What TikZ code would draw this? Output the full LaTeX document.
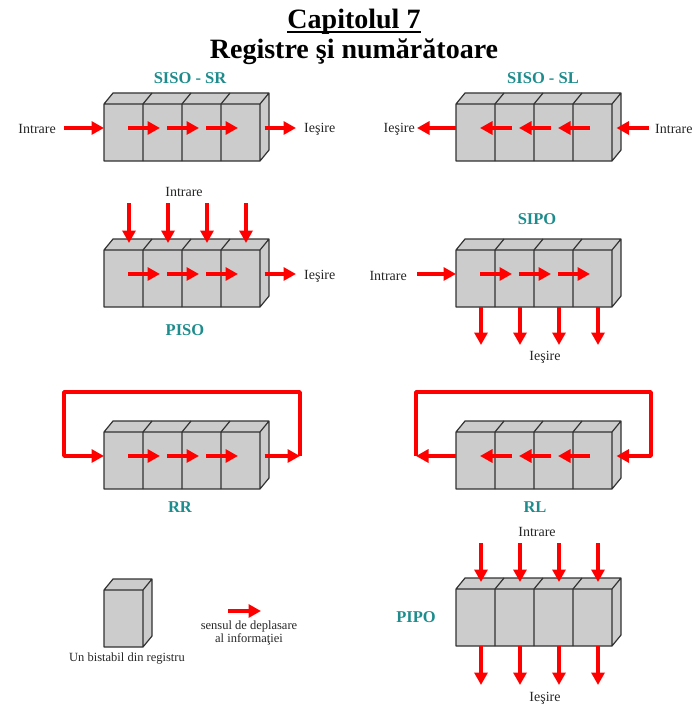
\documentclass[tikz,border=0pt]{standalone}
\usepackage{fontspec}
\setmainfont{Liberation Serif}
\usetikzlibrary{arrows.meta,calc}
\definecolor{tealtxt}{RGB}{30,140,140}
\definecolor{cellgrey}{RGB}{204,204,204}
\definecolor{edgegrey}{RGB}{50,50,50}
\begin{document}
\begin{tikzpicture}[x=1pt,y=-1pt,
  redarrow/.style={draw=red, line width=3.4pt, -{Triangle[length=12.5pt,width=13pt]}},
  lbl/.style={font=\fontsize{14}{16}\selectfont, text=black!85, inner sep=0pt, anchor=mid},
  ttl/.style={font=\fontsize{16.5}{18}\selectfont\bfseries, text=tealtxt, inner sep=0pt},
  leg/.style={font=\fontsize{12.5}{13}\selectfont, text=black!85, inner sep=0pt, align=center},
  bigttl/.style={font=\fontsize{28}{30}\selectfont\bfseries, inner sep=0pt, anchor=base},
  pics/reg/.style={code={
    \pgfmathsetmacro\W{39*#1}
    \fill[cellgrey] (0,0) -- (9,-11) -- (\W+9,-11) -- (\W+9,46) -- (\W,57) -- (0,57) -- cycle;
    \draw[edgegrey,line width=1.2pt,line join=round]
      (0,0) rectangle (\W,57)
      (0,0) -- (9,-11) -- (\W+9,-11) -- (\W+9,46) -- (\W,57)
      (\W,0) -- (\W+9,-11);
    \ifnum#1>1
      \pgfmathtruncatemacro\nm{#1-1}
      \foreach \i in {1,...,\nm}{
        \draw[edgegrey,line width=1.2pt] (39*\i,0) -- (39*\i,57) (39*\i,0) -- (39*\i+9,-11);
        \coordinate (-s\i) at (39*\i-15,24);
        \coordinate (-e\i) at (39*\i+17,24);
      }
    \fi
    \coordinate (-l) at (0,24);
    \coordinate (-r) at (\W+4.5,24);
    \foreach \i in {1,...,#1}{
      \coordinate (-t\i) at (39*\i-14,-7);
      \coordinate (-b\i) at (39*\i-14,57);
    }
  }}]
\useasboundingbox (0,0) rectangle (694,706);

% titles
\node[bigttl] (cap) at (354,29) {Capitolul 7};
\draw[line width=2pt] ([yshift=-3.2pt]cap.base west) -- ([yshift=-3.2pt]cap.base east);
\node[bigttl] (regtitle) at (354,59) {Registre şi numărătoare};

% SISO - SR
\node[ttl] (srt) at (190,78) {SISO - SR};
\pic (sr) at (104,104) {reg=4};
\coordinate (srin) at (64,128);
\coordinate (srout) at (296,128);
\draw[redarrow] (srin) -- (sr-l);
\draw[redarrow] (sr-r) -- (srout);
\foreach \i in {1,2,3} \draw[redarrow] (sr-s\i) -- (sr-e\i);
\node[lbl,anchor=east] (srinl) at (56,129) {Intrare};
\node[lbl,anchor=west] (sroutl) at (304,129) {Ieşire};

% SISO - SL
\node[ttl] (slt) at (543,78) {SISO - SL};
\pic (sl) at (456,104) {reg=4};
\coordinate (slin) at (649,128);
\coordinate (slout) at (417,128);
\draw[redarrow] (sl-l) -- (slout);
\draw[redarrow] (slin) -- (sl-r);
\foreach \i in {1,2,3} \draw[redarrow] (sl-e\i) -- (sl-s\i);
\node[lbl,anchor=east] (sloutl) at (415,129) {Ieşire};
\node[lbl,anchor=west] (slinl) at (655,129) {Intrare};

% PISO
\pic (pis) at (104,250) {reg=4};
\coordinate (pisy) at (0,203);
\coordinate (pisout) at (296,274);
\foreach \i in {1,2,3,4} \draw[redarrow] (pis-t\i |- pisy) -- (pis-t\i);
\foreach \i in {1,2,3} \draw[redarrow] (pis-s\i) -- (pis-e\i);
\draw[redarrow] (pis-r) -- (pisout);
\node[lbl] (pisinl) at (184,194) {Intrare};
\node[lbl,anchor=west] (pisoutl) at (304,276) {Ieşire};
\node[ttl] (pist) at (185,330) {PISO};

% SIPO
\node[ttl] (sipt) at (537,219) {SIPO};
\pic (sip) at (456,250) {reg=4};
\coordinate (sipin) at (417,274);
\coordinate (sipy) at (0,345);
\draw[redarrow] (sipin) -- (sip-l);
\foreach \i in {1,2,3} \draw[redarrow] (sip-s\i) -- (sip-e\i);
\foreach \i in {1,2,3,4} \draw[redarrow] (sip-b\i) -- (sip-b\i |- sipy);
\node[lbl,anchor=east] (sipinl) at (407,276) {Intrare};
\node[lbl] (sipoutl) at (545,358) {Ieşire};

% RR
\pic (rr) at (104,432) {reg=4};
\coordinate (rrA) at (300,456);
\coordinate (rrB) at (64,392);
\foreach \i in {1,2,3} \draw[redarrow] (rr-s\i) -- (rr-e\i);
\draw[redarrow] (rr-r) -- (rrA);
\draw[redarrow,line join=round] (rrA) |- (rrB) |- (rr-l);
\node[ttl] (rrt) at (180,507) {RR};

% RL
\pic (rl) at (456,432) {reg=4};
\coordinate (rlA) at (416,456);
\coordinate (rlB) at (651,392);
\foreach \i in {1,2,3} \draw[redarrow] (rl-e\i) -- (rl-s\i);
\draw[redarrow] (rl-l) -- (rlA);
\draw[redarrow,line join=round] (rlA) |- (rlB) |- (rl-r);
\node[ttl] (rlt) at (535,507) {RL};

% PIPO
\pic (pip) at (456,589) {reg=4};
\coordinate (pipy1) at (0,543);
\coordinate (pipy2) at (0,685);
\foreach \i in {1,2,3,4} {
  \draw[redarrow] (pip-t\i |- pipy1) -- (pip-t\i);
  \draw[redarrow] (pip-b\i) -- (pip-b\i |- pipy2);
}
\node[lbl] (pipinl) at (537,534) {Intrare};
\node[lbl] (pipoutl) at (545,699) {Ieşire};
\node[ttl] (pipt) at (416,617) {PIPO};

% legend
\pic (lg) at (104,590) {reg=1};
\node[leg] (lgtxt) at (127,659) {Un bistabil din registru};
\coordinate (lgA) at (228,611);
\coordinate (lgB) at (261,611);
\draw[redarrow] (lgA) -- (lgB);
\node[leg] (lgtxt2) at (249,633) {sensul de deplasare\\al informaţiei};
\end{tikzpicture}
\end{document}
